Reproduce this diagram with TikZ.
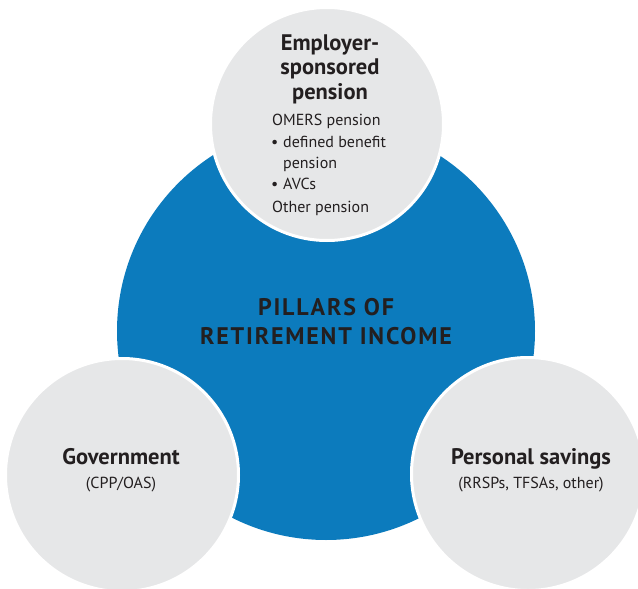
\documentclass[tikz,border=0pt]{standalone}
\usepackage{fontspec}
\setmainfont{PT Sans}
\usepackage{tikz}
\usetikzlibrary{positioning}
\definecolor{pillarblue}{RGB}{12,123,189}
\definecolor{pillargray}{RGB}{230,231,232}
\definecolor{pillarink}{RGB}{35,31,32}
\tikzset{
    pillar/.style={circle, fill=pillargray, draw=white, line width=3pt, minimum size=233pt, inner sep=0pt},
    heading/.style={anchor=base, inner sep=0pt, text=pillarink, font=\bfseries\fontsize{22.5}{24}\selectfont},
    detail/.style={anchor=base, inner sep=0pt, text=pillarink, font=\fontsize{16}{18}\selectfont},
    title/.style={anchor=base, inner sep=0pt, text=pillarink, font=\bfseries\fontsize{24}{24}\selectfont\addfontfeature{LetterSpace=7.5}}
}

\begin{document}
\begin{tikzpicture}[x=1pt, y=-1pt]
    \useasboundingbox (0,0) rectangle (638,589);

    % big circle and the three pillars
    \node[circle, fill=pillarblue, minimum size=418pt, inner sep=0pt] (income) at (326,331) {};
    \node[pillar] (employer) at (327,124) {};
    \node[pillar] (government) at (122,475) {};
    \node[pillar] (savings) at (528,474) {};

    \node[title] (title1) at (326,315) {PILLARS OF};
    \node[title] (title2) at (326,344) {RETIREMENT INCOME};

    % top pillar
    \node[heading] (emp1) at (330,50) {Employer-};
    \node[heading] (emp2) at (330,74) {sponsored};
    \node[heading] (emp3) at (330,99) {pension};
    \node[detail, anchor=base west] (omers) at (272,125) {OMERS pension};
    \foreach \y/\txt/\b in {147/defined benefit/1, 168/pension/0, 189/AVCs/1} {
        \ifnum\b=1 \node[detail, anchor=base west] at (271,\y) {\textbullet}; \fi
        \node[detail, anchor=base west] at (283,\y) {\txt};
    }
    \node[detail, anchor=base west] (other) at (272,212) {Other pension};

    % left and right pillars
    \node[heading] (gov) at (121,464) {Government};
    \node[detail] (gov-sub) at (121,488) {(CPP/OAS)};
    \node[heading] (pers) at (531,464) {Personal savings};
    \node[detail] (pers-sub) at (531,488) {(RRSPs, TFSAs, other)};
\end{tikzpicture}
\end{document}
